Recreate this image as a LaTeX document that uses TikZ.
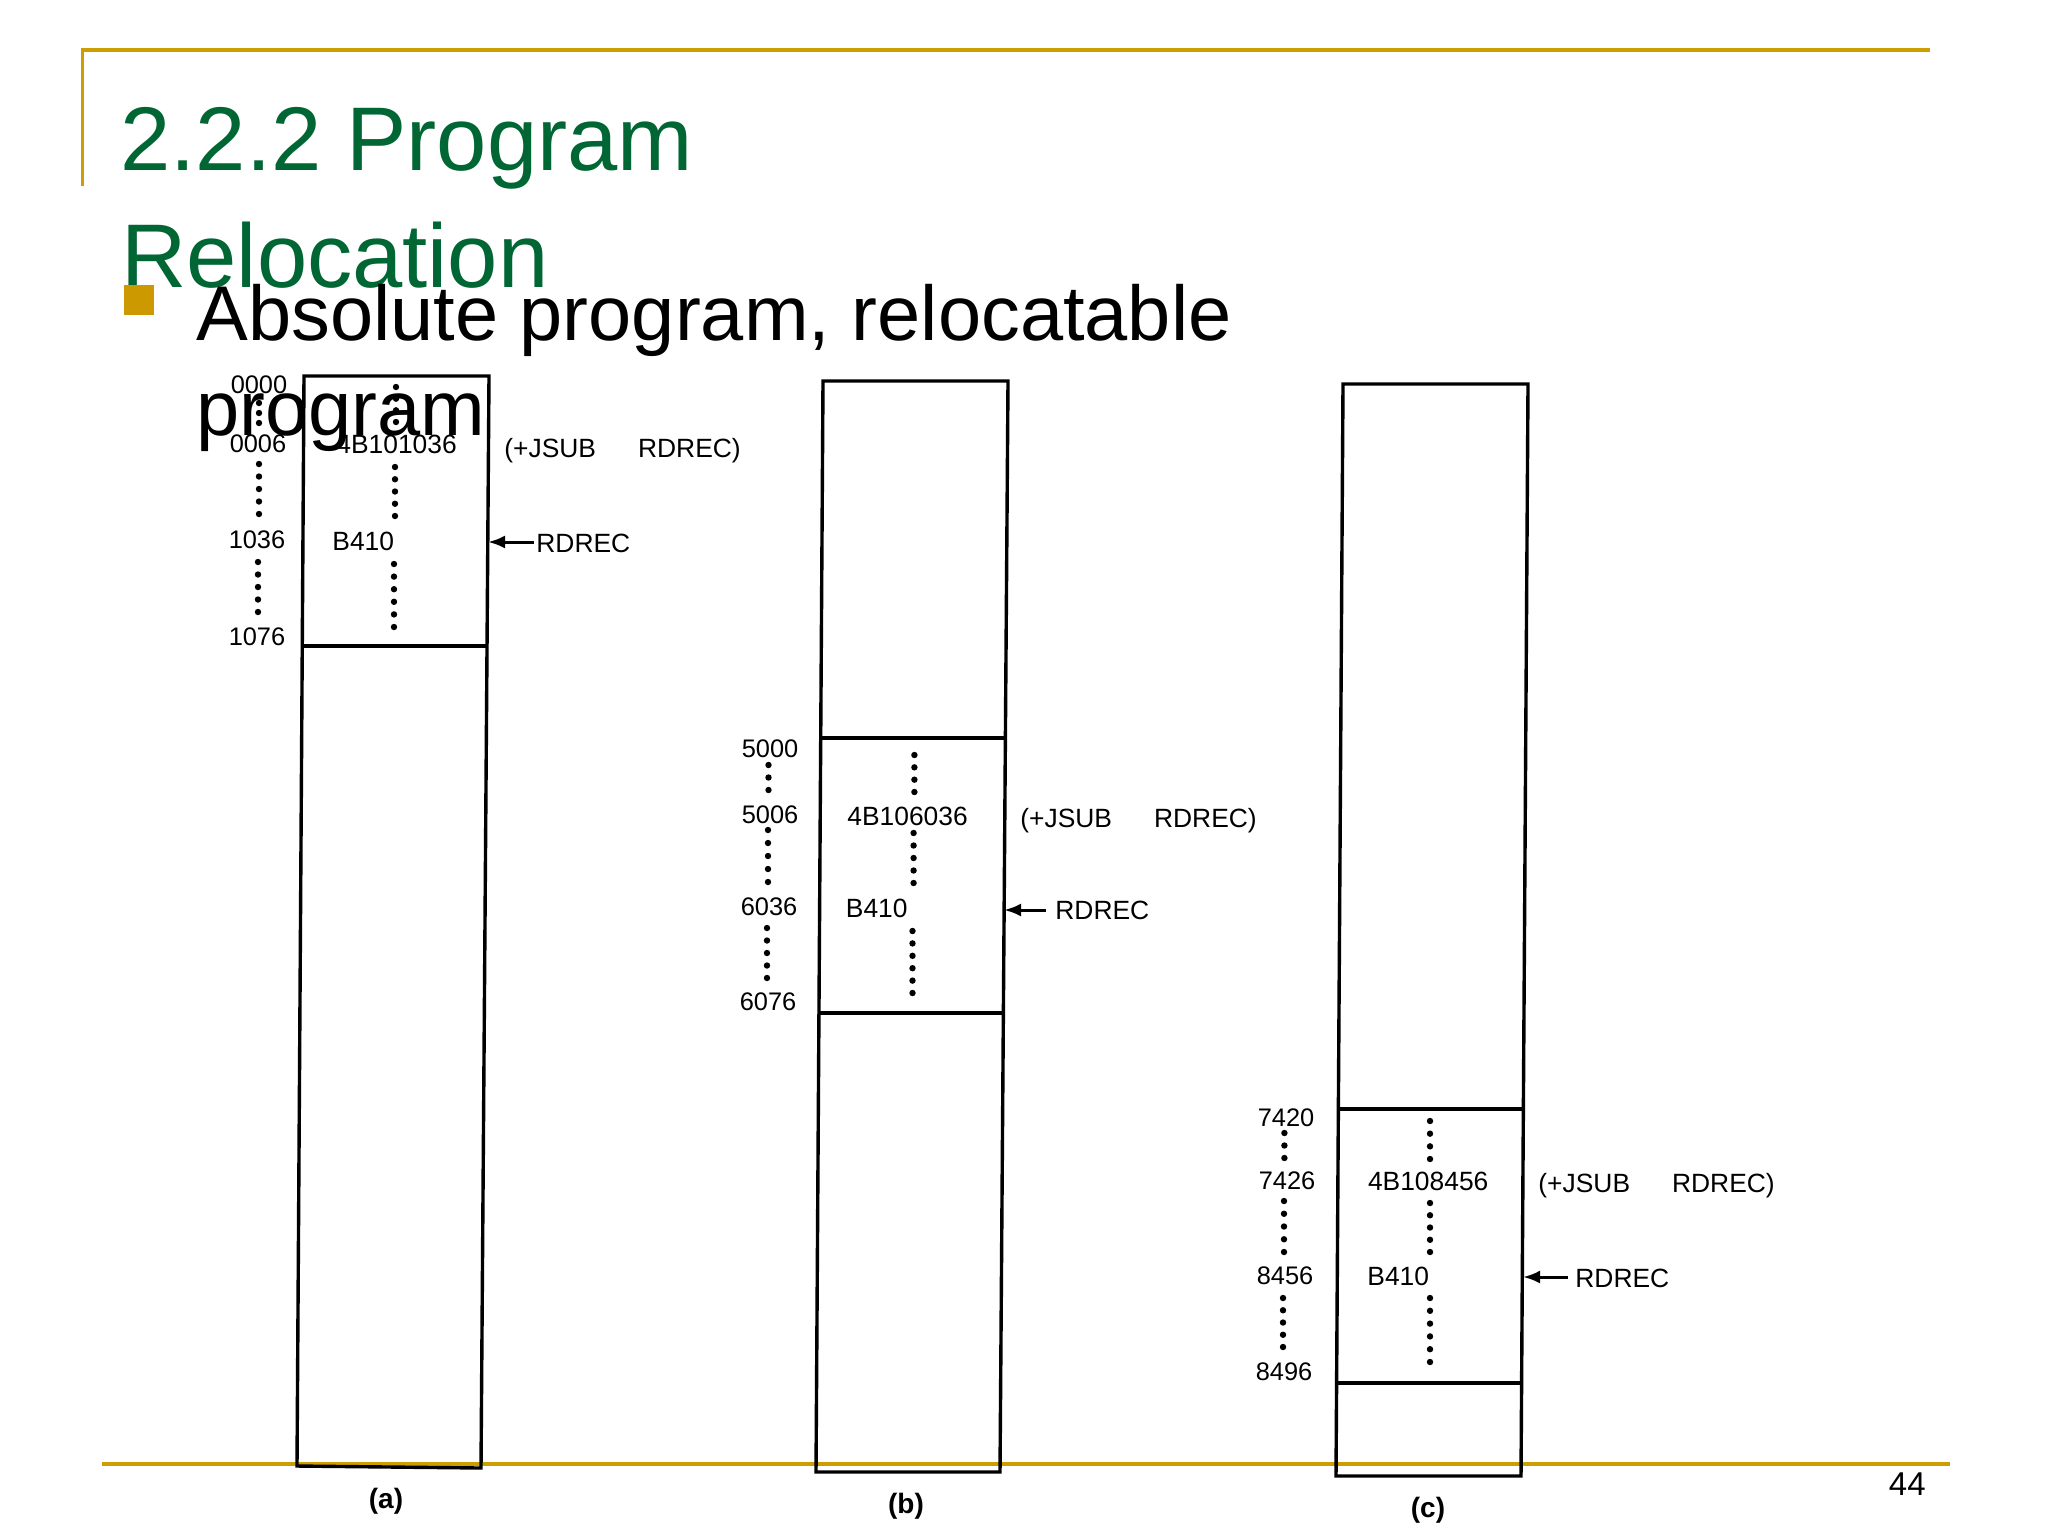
\documentclass[tikz,border=0pt]{standalone}
\usepackage{fontspec}
\setmainfont{Liberation Sans}
\usetikzlibrary{arrows.meta}
\definecolor{slidegold}{RGB}{204,158,0}
\definecolor{bulletgold}{RGB}{204,153,0}
\definecolor{titlegreen}{RGB}{0,102,51}
\newcommand\dotcolumn[4]{%
  \foreach \i in {0,...,\numexpr#4-1\relax}{%
    \fill ({#1},{#2+\i*(#3-#2)/(#4-1)}) circle[radius=1.6pt];}}
\begin{document}
\begin{tikzpicture}[x=0.5pt,y=-0.5pt,
  goldline/.style={draw=slidegold,line width=2pt},
  memline/.style={draw=black,line width=1.7pt,line join=miter},
  addr/.style={anchor=base,inner sep=0pt,font=\fontsize{12.7}{12.7}\selectfont},
  codetxt/.style={anchor=base west,inner sep=0pt,font=\fontsize{13.2}{13.2}\selectfont},
  figcaption/.style={anchor=base,inner sep=0pt,font=\bfseries\fontsize{14}{14}\selectfont},
  ptr/.style={line width=1.5pt,-{Latex[length=8.5pt,width=6.5pt]}},
]
\useasboundingbox (0,0) rectangle (2048,1537);
% slide frame
\draw[goldline] (81,49.5) -- (1930,49.5);
\draw[draw=slidegold,line width=1.5pt] (82,49.5) -- (82,186);
\draw[goldline] (102,1463.5) -- (1950,1463.5);
\node[anchor=base east,inner sep=0pt,font=\fontsize{16.5}{16.5}\selectfont] (pagenum) at (1926,1495) {44};

% ---------- (a) ----------
\draw[memline] (304,376) -- (489,376) -- (481,1468) -- (297,1466) -- cycle;
\draw[memline] (302.3,646) -- (487,646);
\node[addr] (a0000) at (259,393) {0000};
\node[addr] (a0006) at (258,452) {0006};
\node[addr] (a1036) at (257,548) {1036};
\node[addr] (a1076) at (257,645) {1076};
\dotcolumn{259}{403}{423}{3}
\dotcolumn{259}{464}{514}{5}
\dotcolumn{258}{562}{612}{5}
\node[codetxt] (ajsub) at (336,453) {4B101036};
\node[codetxt] (ab410) at (332,550) {B410};
\dotcolumn{396}{387}{422}{4}
\dotcolumn{395}{467}{516}{5}
\dotcolumn{394}{564}{627}{6}
\node[codetxt] (acmt) at (504,457) {(+JSUB\hspace{21pt}RDREC)};
\node[codetxt] (ardrec) at (536,552) {RDREC};
\coordinate (atip) at (488,542);
\coordinate (atail) at (534,542);
\draw[ptr] (atail) -- (atip);
\node[figcaption] (capa) at (386,1508) {(a)};

% ---------- (b) ----------
\draw[memline] (823,381) -- (1008,381) -- (1000,1472) -- (816,1472) -- cycle;
\draw[memline] (820.7,738) -- (1005.4,738);
\draw[memline] (818.9,1013) -- (1003.4,1013);
\node[addr] (b5000) at (770,757) {5000};
\node[addr] (b5006) at (770,823) {5006};
\node[addr] (b6036) at (769,915) {6036};
\node[addr] (b6076) at (768,1010) {6076};
\dotcolumn{768.5}{765}{790}{3}
\dotcolumn{768}{830}{882}{5}
\dotcolumn{767}{928}{978}{5}
\node[codetxt] (bjsub) at (847,825) {4B106036};
\node[codetxt] (bb410) at (845.5,917) {B410};
\dotcolumn{914.4}{755}{792}{4}
\dotcolumn{913.6}{833}{883}{5}
\dotcolumn{912.5}{931}{993}{6}
\node[codetxt] (bcmt) at (1020,827) {(+JSUB\hspace{21pt}RDREC)};
\node[codetxt] (brdrec) at (1055,919) {RDREC};
\coordinate (btip) at (1004,910);
\coordinate (btail) at (1046,910);
\draw[ptr] (btail) -- (btip);
\node[figcaption] (capb) at (906,1513) {(b)};

% ---------- (c) ----------
\draw[memline] (1343,384) -- (1528,384) -- (1521,1476) -- (1336,1476) -- cycle;
\draw[memline] (1338.4,1109) -- (1523.4,1109);
\draw[memline] (1336.6,1383) -- (1521.6,1383);
\node[addr] (c7420) at (1286,1126) {7420};
\node[addr] (c7426) at (1287,1189) {7426};
\node[addr] (c8456) at (1285,1284) {8456};
\node[addr] (c8496) at (1284,1380) {8496};
\dotcolumn{1284.4}{1133}{1158}{3}
\dotcolumn{1284}{1201}{1252}{5}
\dotcolumn{1283}{1298}{1347}{5}
\node[codetxt] (cjsub) at (1367.6,1190) {4B108456};
\node[codetxt] (cb410) at (1367,1285) {B410};
\dotcolumn{1430}{1121}{1159}{4}
\dotcolumn{1430}{1203}{1252}{5}
\dotcolumn{1430}{1298}{1362}{6}
\node[codetxt] (ccmt) at (1538,1192) {(+JSUB\hspace{21pt}RDREC)};
\node[codetxt] (crdrec) at (1575,1287) {RDREC};
\coordinate (ctip) at (1523,1277);
\coordinate (ctail) at (1568,1277);
\draw[ptr] (ctail) -- (ctip);
\node[figcaption] (capc) at (1428,1517) {(c)};

% ---------- slide text ----------
\node[anchor=base west,inner sep=0pt,text=titlegreen,font=\fontsize{45.2}{45.2}\selectfont] (title1) at (120,170) {2.2.2 Program};
\node[anchor=base west,inner sep=0pt,text=titlegreen,font=\fontsize{45.2}{45.2}\selectfont] (title2) at (121,287) {Relocation};
\fill[bulletgold] (124,285) rectangle (154,315);
\node[anchor=base west,inner sep=0pt,font=\fontsize{38.8}{38.8}\selectfont] (bullet1) at (196,340) {Absolute program, relocatable};
\node[anchor=base west,inner sep=0pt,font=\fontsize{38.8}{38.8}\selectfont] (bullet2) at (196,435) {program};
\end{tikzpicture}
\end{document}
